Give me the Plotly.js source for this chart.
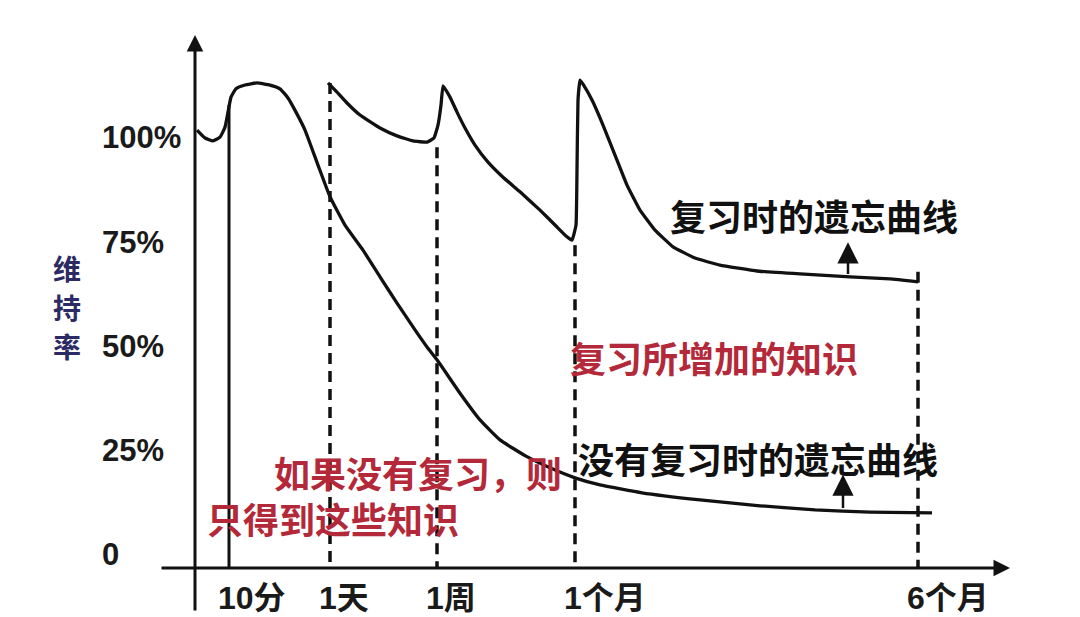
<!DOCTYPE html>
<html>
<head>
<meta charset="utf-8">
<script src="https://cdn.plot.ly/plotly-3.0.1.min.js"></script>
<style>html,body{margin:0;padding:0;background:#fff;}#chart{width:1080px;height:617px;}</style>
</head>
<body>
<div id="chart"></div>
<script>
// ---- data ----
const tickPos  = [3.4, 13.5, 24.2, 38.0, 72.3];
const tickText = ['10分', '1天', '1周', '1个月', '6个月'];
const yTickVals = [0, 25, 50, 75, 100];
const yTickText = ['0', '25%', '50%', '75%', '100%'];
const yTitleChars = ['维', '持', '率'];

// learning + forgetting without review
const noReviewX = [0.2, 1.0, 1.8, 2.5, 3.0, 3.3, 3.6, 4.1, 5.0, 6.2, 7.5, 8.5, 9.3, 10.1, 11.0, 12.3, 13.5, 15.0, 16.8, 18.5, 20.2, 22.0, 23.2, 24.2, 26.5, 28.5, 30.5, 33.1, 35.5, 38.0, 40.5, 44.7, 50.5, 56.5, 62.0, 67.5, 73.7];
const noReviewY = [101.9, 100.0, 99.3, 100.2, 102.6, 106.2, 109.8, 111.8, 112.7, 113.2, 112.7, 111.8, 109.6, 106.2, 101.9, 93.5, 85.9, 79.1, 73.1, 66.7, 60.4, 54.0, 49.9, 46.8, 38.8, 32.4, 27.6, 23.7, 20.9, 18.5, 16.8, 14.9, 13.2, 11.8, 10.8, 10.3, 10.1];

// forgetting with review
const reviewX = [13.3, 14.2, 15.2, 16.5, 18.5, 20.2, 21.8, 23.2, 23.9, 24.3, 24.6, 24.8,
  25.5, 26.2, 27.0, 28.0, 29.3, 30.8, 32.5, 34.5, 36.1, 37.1, 37.7,
  38.1, 38.2, 38.3, 38.5,
  38.8, 39.7, 40.8, 42.0, 43.2, 44.5, 46.0, 47.8, 50.0, 52.5, 56.2, 60.5, 65.5, 69.5, 72.3];
const reviewY = [113.2, 111.0, 108.4, 105.5, 102.4, 100.5, 99.3, 99.0, 100.0, 103.1, 107.9, 112.5,
  109.8, 106.2, 102.4, 98.3, 94.2, 90.6, 87.1, 82.7, 78.9, 76.5, 75.5,
  79.1, 92.3, 109.1, 113.9,
  112.9, 109.1, 103.1, 95.9, 88.7, 82.7, 77.9, 73.9, 71.2, 69.5, 68.1, 67.4, 66.7, 66.2, 65.5];

// where each vertical guide line begins (top value)
const guideTop = [107.9, 113.2, 97.8, 74.3, 67.9];
const baseLevel = -3.1;

// ---- figure ----
const black = '#111111';
const red = '#b3293a';
const traces = [];

tickPos.forEach((p, i) => {
  traces.push({
    x: [p, p], y: [guideTop[i], baseLevel], mode: 'lines', hoverinfo: 'skip',
    line: {color: black, width: i === 0 ? 3 : 3.5, dash: i === 0 ? 'solid' : '11px,7px'}
  });
});

traces.push({x: noReviewX, y: noReviewY, mode: 'lines', hoverinfo: 'skip',
  line: {color: black, width: 3.3, shape: 'spline', smoothing: 0.4}});
traces.push({x: reviewX, y: reviewY, mode: 'lines', hoverinfo: 'skip',
  line: {color: black, width: 3.3, shape: 'spline', smoothing: 0.3}});

const latin = '"Liberation Sans", "Noto Sans CJK SC", sans-serif';
const cjk = '"Noto Sans CJK SC", sans-serif';
const ann = [];
// axes with arrows
ann.push({x: 0, y: 124.7, ax: 0, ay: -13.7, xref: 'x', yref: 'y', axref: 'x', ayref: 'y',
  text: '', showarrow: true, arrowhead: 2, arrowsize: 1.1, arrowwidth: 3, arrowcolor: black});
ann.push({x: 81.5, y: baseLevel, ax: -3.5, ay: baseLevel, xref: 'x', yref: 'y', axref: 'x', ayref: 'y',
  text: '', showarrow: true, arrowhead: 2, arrowsize: 1.1, arrowwidth: 3, arrowcolor: black});
// small pointer arrows
ann.push({x: 65.3, y: 75.0, ax: 65.3, ay: 67.0, xref: 'x', yref: 'y', axref: 'x', ayref: 'y',
  text: '', showarrow: true, arrowhead: 2, arrowsize: 1.7, arrowwidth: 2.5, arrowcolor: black});
ann.push({x: 64.8, y: 19.3, ax: 64.8, ay: 10.9, xref: 'x', yref: 'y', axref: 'x', ayref: 'y',
  text: '', showarrow: true, arrowhead: 2, arrowsize: 1.7, arrowwidth: 2.5, arrowcolor: black});

// y tick labels
yTickVals.forEach((v, i) => ann.push({x: -9.5, y: v, xref: 'x', yref: 'y', xanchor: 'left', yanchor: 'middle',
  text: yTickText[i], showarrow: false, font: {family: latin, size: 31, color: '#1a1a1a', weight: 'bold'}}));
// x tick labels
tickPos.forEach((p, i) => ann.push({x: p, y: -10.3, xref: 'x', yref: 'y', xanchor: 'left', yanchor: 'middle', xshift: -13,
  text: tickText[i], showarrow: false, font: {family: latin, size: 32, color: '#1a1a1a', weight: 'bold'}}));

// axis title, one character per line
yTitleChars.forEach((c, i) => ann.push({x: -12.8, y: 68.8 - i * 9.4, xref: 'x', yref: 'y', xanchor: 'center', yanchor: 'middle',
  text: c, showarrow: false, font: {family: cjk, size: 28, color: '#2b2a63', weight: 'bold'}}));

// explanation texts
const notes = [
  {x: 47.3, y: 81.5, text: '复习时的遗忘曲线', color: black},
  {x: 37.3, y: 47.5, text: '复习所增加的知识', color: red},
  {x: 38.1, y: 23.3, text: '没有复习时的遗忘曲线', color: black},
  {x: 7.7, y: 19.9, text: '如果没有复习，则', color: red},
  {x: 1.0, y: 8.9, text: '只得到这些知识', color: red}
];
notes.forEach(n => ann.push({x: n.x, y: n.y, xref: 'x', yref: 'y', xanchor: 'left', yanchor: 'middle',
  text: n.text, showarrow: false, font: {family: cjk, size: 36, color: n.color, weight: 'bold'}}));

const layout = {
  width: 1080, height: 617,
  margin: {l: 0, r: 0, t: 0, b: 0},
  paper_bgcolor: '#ffffff', plot_bgcolor: '#ffffff',
  showlegend: false,
  xaxis: {range: [-19.5, 88.5], visible: false, fixedrange: true},
  yaxis: {range: [-14.87, 133.09], visible: false, fixedrange: true},
  annotations: ann
};

Plotly.newPlot('chart', traces, layout, {staticPlot: true});
</script>
</body>
</html>
